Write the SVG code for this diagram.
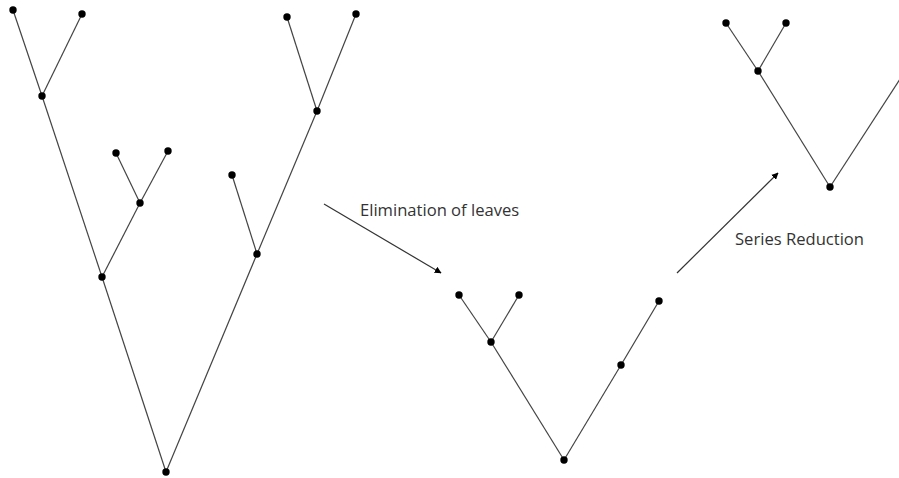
<svg xmlns="http://www.w3.org/2000/svg" width="899" height="478" viewBox="0 0 899 478">
<style>
.e{stroke:#444;stroke-width:1.2;fill:none}
.a{stroke:#333;stroke-width:1.2;fill:none;marker-end:url(#ah)}
.n{fill:#000}
.t{font-family:"Open Sans","Liberation Sans",sans-serif;font-size:16.6px;fill:#333}
</style>
<defs>
<marker id="ah" viewBox="0 0 10 10" refX="9" refY="5" markerWidth="7" markerHeight="7" markerUnits="userSpaceOnUse" orient="auto">
<path d="M0,0 L10,5 L0,10 z" fill="#000"/>
</marker>
</defs>
<rect width="899" height="478" fill="#fff"/>
<g id="connectors">
<line class="e" x1="13" y1="10" x2="42" y2="96"/>
<line class="e" x1="82" y1="14" x2="42" y2="96"/>
<line class="e" x1="42" y1="96" x2="102" y2="277"/>
<line class="e" x1="102" y1="277" x2="166" y2="472"/>
<line class="e" x1="116" y1="153" x2="140" y2="203"/>
<line class="e" x1="168" y1="151" x2="140" y2="203"/>
<line class="e" x1="140" y1="203" x2="102" y2="277"/>
<line class="e" x1="287" y1="17" x2="317" y2="111"/>
<line class="e" x1="356" y1="14" x2="317" y2="111"/>
<line class="e" x1="317" y1="111" x2="257" y2="254"/>
<line class="e" x1="232" y1="175" x2="257" y2="254"/>
<line class="e" x1="257" y1="254" x2="166" y2="472"/>
<line class="e" x1="459" y1="295" x2="491" y2="342"/>
<line class="e" x1="519" y1="295" x2="491" y2="342"/>
<line class="e" x1="491" y1="342" x2="564" y2="460"/>
<line class="e" x1="564" y1="460" x2="621" y2="365"/>
<line class="e" x1="621" y1="365" x2="659" y2="301"/>
<line class="e" x1="726" y1="23" x2="758" y2="71"/>
<line class="e" x1="786" y1="23" x2="758" y2="71"/>
<line class="e" x1="758" y1="71" x2="830" y2="187"/>
<line class="e" x1="830" y1="187" x2="900" y2="79"/>
<line class="a" x1="324" y1="204" x2="441" y2="273"/>
<line class="a" x1="677" y1="273" x2="778" y2="173"/>
</g>
<g id="n1"><circle class="n" cx="13" cy="10" r="3.7"/></g>
<g id="n2"><circle class="n" cx="82" cy="14" r="3.7"/></g>
<g id="n3"><circle class="n" cx="42" cy="96" r="3.7"/></g>
<g id="n4"><circle class="n" cx="116" cy="153" r="3.7"/></g>
<g id="n5"><circle class="n" cx="168" cy="151" r="3.7"/></g>
<g id="n6"><circle class="n" cx="140" cy="203" r="3.7"/></g>
<g id="n7"><circle class="n" cx="102" cy="277" r="3.7"/></g>
<g id="n8"><circle class="n" cx="287" cy="17" r="3.7"/></g>
<g id="n9"><circle class="n" cx="356" cy="14" r="3.7"/></g>
<g id="n10"><circle class="n" cx="317" cy="111" r="3.7"/></g>
<g id="n11"><circle class="n" cx="232" cy="175" r="3.7"/></g>
<g id="n12"><circle class="n" cx="257" cy="254" r="3.7"/></g>
<g id="n13"><circle class="n" cx="166" cy="472" r="3.7"/></g>
<g id="m1"><circle class="n" cx="459" cy="295" r="3.7"/></g>
<g id="m2"><circle class="n" cx="519" cy="295" r="3.7"/></g>
<g id="m3"><circle class="n" cx="491" cy="342" r="3.7"/></g>
<g id="m4"><circle class="n" cx="564" cy="460" r="3.7"/></g>
<g id="m5"><circle class="n" cx="621" cy="365" r="3.7"/></g>
<g id="m6"><circle class="n" cx="659" cy="301" r="3.7"/></g>
<g id="r1"><circle class="n" cx="726" cy="23" r="3.7"/></g>
<g id="r2"><circle class="n" cx="786" cy="23" r="3.7"/></g>
<g id="r3"><circle class="n" cx="758" cy="71" r="3.7"/></g>
<g id="r4"><circle class="n" cx="830" cy="187" r="3.7"/></g>
<g id="label1"><text class="t" x="360" y="216">Elimination of leaves</text></g>
<g id="label2"><text class="t" x="735" y="245">Series Reduction</text></g>
</svg>
